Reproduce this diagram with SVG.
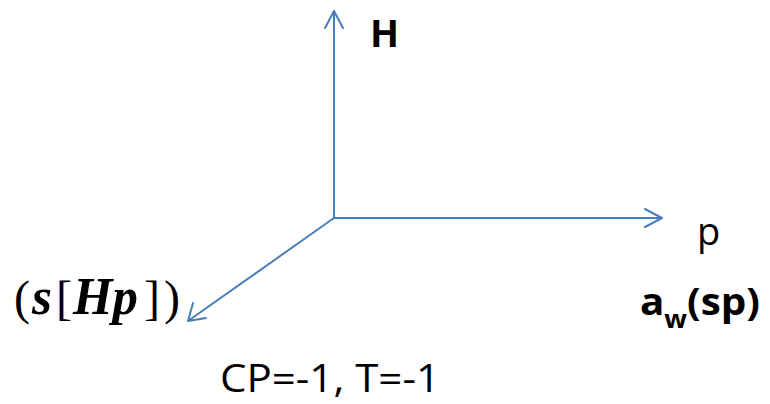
<svg xmlns="http://www.w3.org/2000/svg" width="770" height="404" viewBox="0 0 770 404">
<style>
.ax{stroke:#4a7ebb;stroke-width:2;fill:none;stroke-linecap:round;stroke-linejoin:round}
.t{font-family:"Open Sans","Liberation Sans",sans-serif;fill:#000}
.m{font-family:"Liberation Serif","Times New Roman",serif;fill:#000;font-size:48px}
.bi{font-weight:bold;font-style:italic;font-size:52px}
</style>
<rect width="770" height="404" fill="#fff"/>
<g id="axes">
<path class="ax" d="M334,218 V11 M325,28 L334,11 L343,28"/>
<path class="ax" d="M334,218 H662 M645,209 L662,218 L645,227"/>
<path class="ax" d="M334,218 L188,321 M193,303 L188,321 L206,318"/>
</g>
<g id="label-H"><text class="t" x="370" y="47" font-size="38" font-weight="bold">H</text></g>
<g id="label-p"><text class="t" x="697" y="245" font-size="38">p</text></g>
<g id="label-aw"><text class="t" x="640" y="315" font-size="38" font-weight="bold" textLength="120" lengthAdjust="spacingAndGlyphs">a<tspan font-size="25" dy="13">w</tspan><tspan dy="-13">(sp)</tspan></text></g>
<g id="label-s">
<text class="m" x="14" y="314">(</text>
<text class="m bi" x="32" y="314" textLength="20" lengthAdjust="spacingAndGlyphs">s</text>
<text class="m" x="56" y="314">[</text>
<text class="m bi" x="73" y="314" textLength="65" lengthAdjust="spacingAndGlyphs">Hp</text>
<text class="m" x="144" y="314">]</text>
<text class="m" x="164" y="314">)</text>
</g>
<g id="label-cp"><text class="t" x="220" y="392" font-size="39" textLength="220" lengthAdjust="spacingAndGlyphs">CP=-1, T=-1</text></g>
</svg>
